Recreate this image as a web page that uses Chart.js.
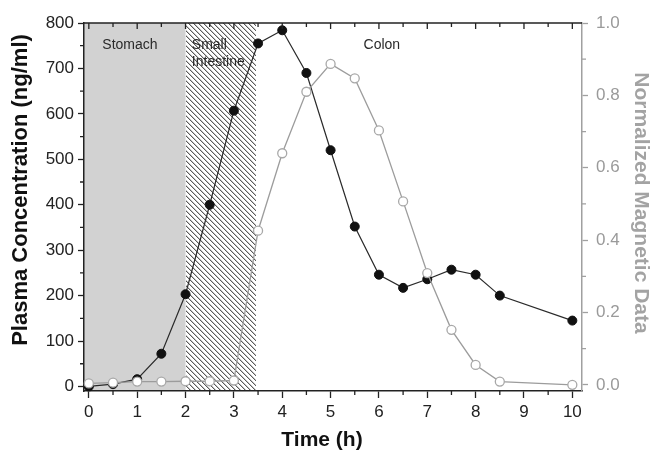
<!DOCTYPE html>
<html>
<head>
<meta charset="utf-8">
<script src="https://cdn.jsdelivr.net/npm/chart.js@4.4.0/dist/chart.umd.min.js"></script>
<style>
  html, body { margin: 0; padding: 0; background: #fff; }
  #wrap { width: 653px; height: 453px; }
</style>
</head>
<body>
<div id="wrap"><canvas id="pkChart" width="653" height="453"></canvas></div>
<script>
// sampling times (h)
const timeH = [0, 0.5, 1, 1.5, 2, 2.5, 3, 3.5, 4, 4.5, 5, 5.5, 6, 6.5, 7, 7.5, 8, 8.5, 10];
// plasma concentration (ng/ml) - filled circles, left axis
const plasmaConc = [0, 5, 16, 72, 203, 400, 607, 755, 784, 690, 520, 352, 246, 217, 236, 257, 246, 200, 145];
// normalized magnetic data - open circles, right axis
const magneticNorm = [0.004, 0.006, 0.009, 0.009, 0.01, 0.01, 0.012, 0.426, 0.64, 0.81, 0.887, 0.847, 0.703, 0.507, 0.309, 0.152, 0.055, 0.009, 0.0];

const xTickValues = [0, 1, 2, 3, 4, 5, 6, 7, 8, 9, 10];
const leftTickValues = [0, 100, 200, 300, 400, 500, 600, 700, 800];
const rightTickValues = [0, 0.2, 0.4, 0.6, 0.8, 1.0];

// GI tract regions (time bounds in h)
const stomachEnd = 2;
const smallIntestineEnd = 3.45;

const FONT = '"Liberation Sans", Arial, sans-serif';
const ctx = document.getElementById('pkChart').getContext('2d');

// crisp "\" hatch, one pixel per row
function makeHatch() {
    const n = 5;
    const c = document.createElement('canvas');
    c.width = n; c.height = n;
    const g = c.getContext('2d');
    g.fillStyle = '#fff';
    g.fillRect(0, 0, n, n);
    for (let i = 0; i < n; i++) {
        g.fillStyle = '#5a5a5a';
        g.fillRect(i, i, 1, 1);
        g.fillStyle = '#c4c4c4';
        g.fillRect((i + 1) % n, i, 1, 1);
    }
    return ctx.createPattern(c, 'repeat');
}
const hatch = makeHatch();

const regionsPlugin = {
    id: 'regions',
    beforeDraw: (chart) => {
        const { ctx, chartArea, scales } = chart;
        const x = scales.x, y = scales.y;
        const xs = x.getPixelForValue(stomachEnd);
        const xi = x.getPixelForValue(smallIntestineEnd);
        ctx.save();
        ctx.fillStyle = '#fff';
        ctx.fillRect(0, 0, chart.width, chart.height);
        ctx.fillStyle = '#d2d2d2';
        ctx.fillRect(chartArea.left, chartArea.top, xs - chartArea.left, chartArea.bottom - chartArea.top);
        ctx.fillStyle = hatch;
        ctx.fillRect(Math.round(xs), chartArea.top, Math.round(xi - xs), chartArea.bottom - chartArea.top);

        // region labels
        ctx.fillStyle = '#2a2a2a';
        ctx.font = '14px ' + FONT;
        ctx.textBaseline = 'middle';
        ctx.textAlign = 'center';
        ctx.fillText('Stomach', x.getPixelForValue(0.85), y.getPixelForValue(752));
        ctx.fillText('Colon', x.getPixelForValue(6.06), y.getPixelForValue(752));
        ctx.textAlign = 'left';
        ctx.fillText('Small', x.getPixelForValue(2.13), y.getPixelForValue(752));
        ctx.fillText('Intestine', x.getPixelForValue(2.13), y.getPixelForValue(714));
        ctx.restore();
    }
};

const framePlugin = {
    id: 'frame',
    afterDraw: (chart) => {
        const { ctx, chartArea, scales } = chart;
        const x = scales.x, y = scales.y, yR = scales.yR;
        ctx.save();
        // top axis line
        ctx.strokeStyle = '#222';
        ctx.lineWidth = 1.5;
        ctx.beginPath();
        ctx.moveTo(chartArea.left, chartArea.top);
        ctx.lineTo(chartArea.right, chartArea.top);
        ctx.stroke();

        ctx.lineWidth = 1.3;
        ctx.beginPath();
        // x ticks: minor below, top inside
        for (let v = 0; v <= 10; v += 0.5) {
            const px = x.getPixelForValue(v);
            const major = v % 1 === 0;
            if (!major) {
                ctx.moveTo(px, chartArea.bottom);
                ctx.lineTo(px, chartArea.bottom + 4);
            }
            ctx.moveTo(px, chartArea.top);
            ctx.lineTo(px, chartArea.top + (major ? 6 : 4));
        }
        // left minor ticks
        for (let v = 50; v < 800; v += 100) {
            const py = y.getPixelForValue(v);
            ctx.moveTo(chartArea.left, py);
            ctx.lineTo(chartArea.left - 4, py);
        }
        ctx.stroke();

        // right minor ticks
        ctx.strokeStyle = '#a0a0a0';
        ctx.beginPath();
        for (let v = 0.1; v < 1; v += 0.2) {
            const py = yR.getPixelForValue(v);
            ctx.moveTo(chartArea.right, py);
            ctx.lineTo(chartArea.right + 4, py);
        }
        ctx.stroke();

        // axis titles
        ctx.textAlign = 'center';
        ctx.textBaseline = 'middle';
        ctx.fillStyle = '#111';
        ctx.font = 'bold 21px ' + FONT;
        ctx.fillText('Time (h)', (chartArea.left + chartArea.right) / 2 - 11, 440);

        ctx.save();
        ctx.translate(21, 190);
        ctx.rotate(-Math.PI / 2);
        ctx.font = 'bold 22px ' + FONT;
        ctx.fillText('Plasma Concentration (ng/ml)', 0, 0);
        ctx.restore();

        ctx.save();
        ctx.translate(641, 203);
        ctx.rotate(Math.PI / 2);
        ctx.fillStyle = '#a3a3a3';
        ctx.font = 'bold 21px ' + FONT;
        ctx.fillText('Normalized Magnetic Data', 0, 0);
        ctx.restore();

        ctx.restore();
    }
};

const tickFont = { family: FONT, size: 17 };

let pkChart = new Chart(ctx, {
    type: 'line',
    data: {
        datasets: [
            {
                label: 'Normalized Magnetic Data',
                data: timeH.map((t, i) => ({ x: t, y: magneticNorm[i] })),
                yAxisID: 'yR',
                borderColor: '#9c9c9c',
                borderWidth: 1.3,
                pointRadius: 4.5,
                pointBackgroundColor: '#fff',
                pointBorderColor: '#a8a8a8',
                pointBorderWidth: 1.3,
                tension: 0,
                clip: false
            },
            {
                label: 'Plasma Concentration',
                data: timeH.map((t, i) => ({ x: t, y: plasmaConc[i] })),
                yAxisID: 'y',
                borderColor: '#2a2a2a',
                borderWidth: 1.2,
                pointRadius: 4.5,
                pointBackgroundColor: '#111',
                pointBorderColor: '#111',
                pointBorderWidth: 1,
                tension: 0,
                clip: false
            }
        ]
    },
    options: {
        responsive: false,
        animation: false,
        layout: { padding: { top: 23, left: 0, right: 0, bottom: 0 } },
        plugins: {
            legend: { display: false },
            tooltip: { enabled: false }
        },
        scales: {
            x: {
                type: 'linear',
                position: 'bottom',
                min: -0.1,
                max: 10.2,
                afterBuildTicks: (s) => { s.ticks = xTickValues.map(v => ({ value: v })); },
                afterFit: (s) => { s.height = 62; },
                grid: { drawOnChartArea: false, tickLength: 7, tickColor: '#222', tickWidth: 1.3 },
                border: { color: '#222', width: 1.5 },
                ticks: { font: tickFont, color: '#222', padding: 4, maxRotation: 0, autoSkip: false }
            },
            y: {
                type: 'linear',
                position: 'left',
                min: -10,
                max: 800,
                afterBuildTicks: (s) => { s.ticks = leftTickValues.map(v => ({ value: v })); },
                afterFit: (s) => { s.width = 84; },
                grid: { drawOnChartArea: false, tickLength: 6, tickColor: '#222', tickWidth: 1.3 },
                border: { color: '#222', width: 1.5 },
                ticks: { font: tickFont, color: '#222', padding: 4, autoSkip: false }
            },
            yR: {
                type: 'linear',
                position: 'right',
                min: -0.017,
                max: 1.0,
                afterBuildTicks: (s) => { s.ticks = rightTickValues.map(v => ({ value: v })); },
                afterFit: (s) => { s.width = 71; },
                grid: { drawOnChartArea: false, tickLength: 6, tickColor: '#a0a0a0', tickWidth: 1.3 },
                border: { color: '#a0a0a0', width: 1.5 },
                ticks: {
                    font: tickFont,
                    color: '#9a9a9a',
                    padding: 8,
                    autoSkip: false,
                    callback: (v) => Number(v).toFixed(1)
                }
            }
        }
    },
    plugins: [regionsPlugin, framePlugin]
});
</script>
</body>
</html>
